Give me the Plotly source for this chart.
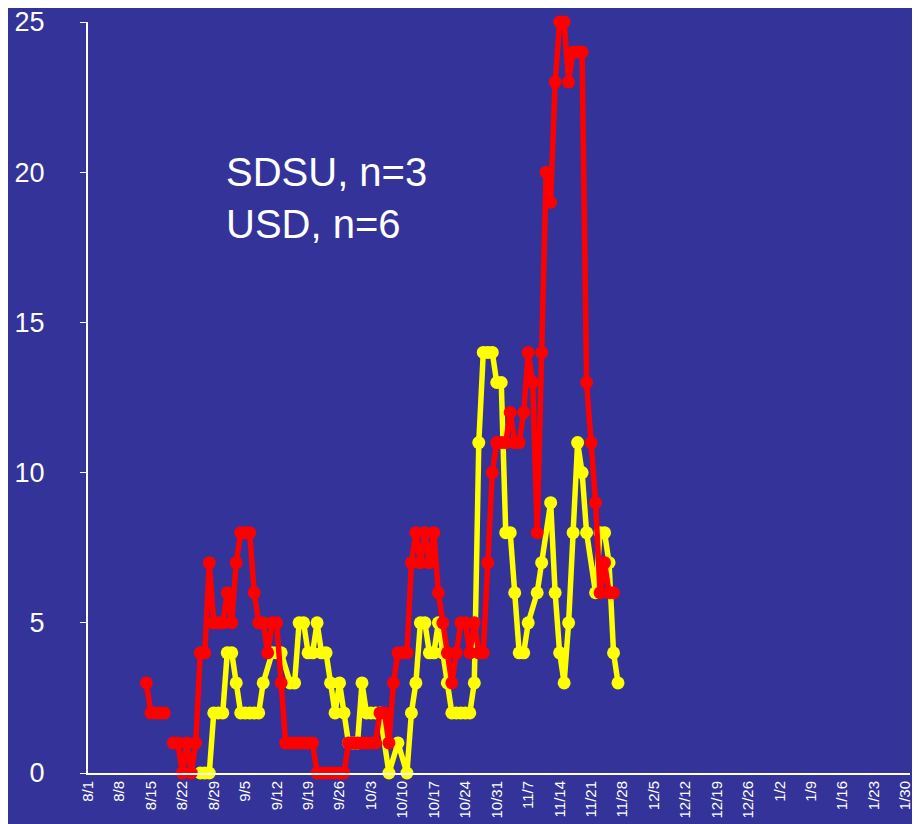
import pandas as pd
import plotly.graph_objects as go

# USD (red) daily counts, None = no report that day
red_days = ["8/14", "8/15", "8/16", "8/17", "8/18", "8/19", "8/20", "8/21", "8/22", "8/23",
            "8/24", "8/25", "8/26", "8/27", "8/28", "8/29", "8/30", "8/31",
            "9/1", "9/2", "9/3", "9/4", "9/5", "9/6", "9/7", "9/8", "9/9", "9/10",
            "9/11", "9/12", "9/13", "9/14", "9/15", "9/16", "9/17", "9/18", "9/19", "9/20",
            "9/21", "9/22", "9/23", "9/24", "9/25", "9/26", "9/27", "9/28", "9/29", "9/30",
            "10/1", "10/2", "10/3", "10/4", "10/5", "10/6", "10/7", "10/8", "10/9", "10/10",
            "10/11", "10/12", "10/13", "10/14", "10/15", "10/16", "10/17", "10/18", "10/19", "10/20",
            "10/21", "10/22", "10/23", "10/24", "10/25", "10/26", "10/27", "10/28", "10/29", "10/30",
            "10/31", "11/1", "11/2", "11/3", "11/4", "11/5", "11/6", "11/7", "11/8", "11/9",
            "11/10", "11/11", "11/12", "11/13", "11/14", "11/15", "11/16", "11/17", "11/18", "11/19",
            "11/20", "11/21", "11/22", "11/23", "11/24", "11/25", "11/26"]
red_vals = [3, 2, 2, 2, 2, None, 1, 1, 0, 1,
            0, 1, 4, 4, 7, 5, 5, 5,
            6, 5, 7, 8, 8, 8, 6, 5, 5, 4,
            5, 5, 3, 1, 1, 1, 1, 1, 1, 1,
            0, 0, 0, 0, 0, 0, 0, 1, 1, 1,
            1, 1, 1, 1, 2, 2, 1, 3, 4, 4,
            4, 7, 8, 7, 8, 7, 8, 6, 5, 4,
            3, 4, 5, 5, 4, 5, 4, 4, 7, 10,
            11, 11, 11, 12, 11, 11, 12, 14, 13, 8,
            14, 20, 19, 23, 25, 25, 23, 24, 24, 24,
            13, 11, 9, 6, 7, 6, 6]

# SDSU (yellow)
yellow_days = ["8/26", "8/27", "8/28", "8/29", "8/30", "8/31", "9/1", "9/2", "9/3", "9/4",
               "9/5", "9/6", "9/7", "9/8", "9/9", "9/11", "9/12", "9/13", "9/15", "9/16",
               "9/17", "9/18", "9/19", "9/20", "9/21", "9/22", "9/23", "9/24", "9/25", "9/26",
               "9/27", "9/28", "9/29", "9/30", "10/1", "10/2", "10/3", "10/4", "10/5", "10/7",
               "10/9", "10/11", "10/12", "10/13", "10/14", "10/15", "10/16", "10/17", "10/18", "10/19",
               "10/20", "10/21", "10/22", "10/23", "10/24", "10/25", "10/26", "10/27", "10/28", "10/29",
               "10/30", "10/31", "11/1", "11/2", "11/3", "11/4", "11/5", "11/6", "11/7", "11/9",
               "11/10", "11/12", "11/13", "11/14", "11/15", "11/16", "11/17", "11/18", "11/19", "11/20",
               "11/22", "11/23", "11/24", "11/25", "11/26", "11/27"]
yellow_vals = [0, 0, 0, 2, 2, 2, 4, 4, 3, 2,
               2, 2, 2, 2, 3, 4, 4, 4, 3, 3,
               5, 5, 4, 4, 5, 4, 4, 3, 2, 3,
               2, 1, 1, 1, 3, 2, 2, 2, 2, 0,
               1, 0, 2, 3, 5, 5, 4, 4, 5, 4,
               3, 2, 2, 2, 2, 2, 3, 11, 14, 14,
               14, 13, 13, 8, 8, 6, 4, 4, 5, 6,
               7, 9, 6, 4, 3, 5, 8, 11, 10, 8,
               6, 8, 8, 7, 4, 3]

annot_lines = ["SDSU, n=3", "USD, n=6"]

BG = "#333399"


def to_dates(days):
    return pd.to_datetime(["2009/" + d for d in days], format="%Y/%m/%d")


fig = go.Figure()
fig.add_trace(go.Scatter(x=to_dates(yellow_days), y=yellow_vals, mode="lines+markers",
                         line=dict(color="#FFFF00", width=5.5),
                         marker=dict(color="#FFFF00", size=13),
                         cliponaxis=False, name="SDSU"))
fig.add_trace(go.Scatter(x=to_dates(red_days), y=red_vals, mode="lines+markers",
                         line=dict(color="#FF0000", width=5.5),
                         marker=dict(color="#FF0000", size=13),
                         connectgaps=False, cliponaxis=False, name="USD"))

fig.add_annotation(text="<br>".join(annot_lines), xref="paper", yref="paper",
                   x=0.166, y=0.765, xanchor="left", yanchor="middle", align="left",
                   showarrow=False, font=dict(size=40, color="white"))

# page body adds an 8px offset, so margins are trimmed to land the axes where the reference has them
fig.update_layout(
    width=920, height=824,
    paper_bgcolor=BG, plot_bgcolor=BG,
    margin=dict(l=80, r=18, t=14, b=59, autoexpand=False),
    showlegend=False,
    font=dict(family="Arial, 'Liberation Sans', sans-serif", color="white"),
)
fig.update_xaxes(type="date", range=["2009-08-01", "2010-01-31"],
                 tick0="2009-08-01", dtick=7 * 86400000, tickformat="%-m/%-d",
                 tickangle=-90, tickfont=dict(size=15), automargin=False,
                 ticklabeloverflow="allow",
                 showgrid=False, zeroline=False,
                 showline=True, linecolor="white", linewidth=2, ticks="")
fig.update_yaxes(range=[0, 25], dtick=5, tickfont=dict(size=27), automargin=False,
                 ticklabeloverflow="allow",
                 showgrid=False, zeroline=False,
                 showline=True, linecolor="white", linewidth=2,
                 ticks="outside", ticklen=6, tickcolor="white",
                 ticklabelstandoff=30)

fig.write_html("out.html")
